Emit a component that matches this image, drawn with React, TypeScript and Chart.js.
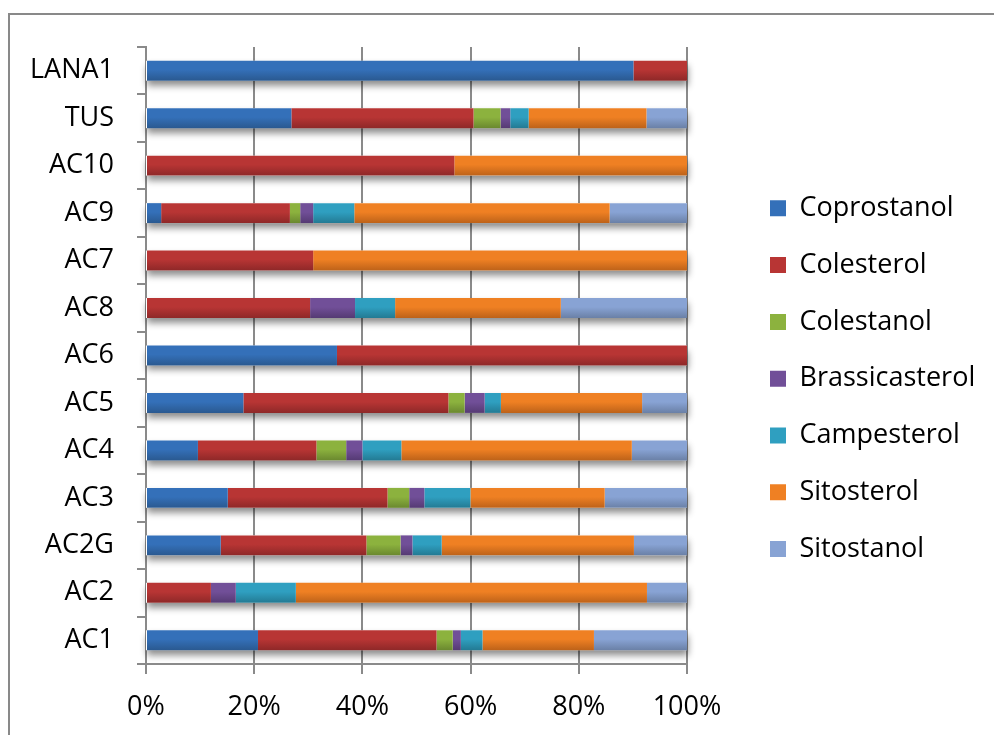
import React, { useEffect, useRef } from 'react';
import { Chart, registerables } from 'chart.js';

Chart.register(...registerables);

// Categories listed bottom-to-top as they appear in the chart
const categories = ['AC1', 'AC2', 'AC2G', 'AC3', 'AC4', 'AC5', 'AC6', 'AC8', 'AC7', 'AC9', 'AC10', 'TUS', 'LANA1'];

const seriesNames = ['Coprostanol', 'Colesterol', 'Colestanol', 'Brassicasterol', 'Campesterol', 'Sitosterol', 'Sitostanol'];

const coprostanol = [20.7, 0, 13.8, 15.1, 9.6, 18.0, 35.3, 0, 0, 2.8, 0, 26.9, 90.1];
const colesterol = [33.0, 12.0, 26.9, 29.5, 21.9, 37.9, 64.7, 30.3, 30.9, 23.8, 57.0, 33.7, 9.9];
const colestanol = [3.0, 0, 6.3, 4.0, 5.5, 3.0, 0, 0, 0, 1.9, 0, 5.0, 0];
const brassicasterol = [1.5, 4.6, 2.2, 2.8, 3.0, 3.7, 0, 8.3, 0, 2.4, 0, 1.8, 0];
const campesterol = [4.0, 11.1, 5.4, 8.5, 7.2, 3.0, 0, 7.4, 0, 7.6, 0, 3.4, 0];
const sitosterol = [20.6, 64.9, 35.5, 24.8, 42.6, 26.1, 0, 30.6, 69.1, 47.2, 43.0, 21.8, 0];
const sitostanol = [17.2, 7.4, 9.8, 15.2, 10.2, 8.3, 0, 23.3, 0, 14.3, 0, 7.5, 0];

const xTickLabels = ['0%', '20%', '40%', '60%', '80%', '100%'];

const baseColors = ['#3470b9', '#b83534', '#8cb23e', '#714f98', '#2f9fc0', '#ef8023', '#88a3d4'];
const darkColors = ['#2a5990', '#8e2828', '#6a882f', '#553a73', '#237a93', '#bd6219', '#6a80a6'];

const FONT_FAMILY = "'Open Sans', 'DejaVu Sans', sans-serif";
const FONT_SIZE = 27;
const BAR_PCT = 0.42;
const GRID = '#8a8a8a';

// layout targets (pixels)
const CANVAS_W = 994;
const CANVAS_H = 735;
const PLOT_RIGHT = 687;
const LEGEND_PAD = 29.8;
const LEGEND_BOX_X = 770;
const LEGEND_SHIFT_Y = -12.3;

const allSeries = [coprostanol, colesterol, colestanol, brassicasterol, campesterol, sitosterol, sitostanol];
const rowTotals = categories.map((_, i) => allSeries.reduce((s, arr) => s + arr[i], 0));

function makeGradient(base: string, dark: string) {
  return (c: any) => {
    const chart = c.chart;
    const ys = chart.scales && chart.scales.y;
    if (c.type !== 'data' || !chart.chartArea || !ys) return base;
    const yc = ys.getPixelForValue(c.dataIndex);
    const half = (ys.height / categories.length) * BAR_PCT / 2;
    if (!isFinite(yc) || !isFinite(half)) return base;
    const g = chart.ctx.createLinearGradient(0, yc - half, 0, yc + half);
    g.addColorStop(0, base);
    g.addColorStop(0.45, base);
    g.addColorStop(1, dark);
    return g;
  };
}

const shadowPlugin = {
  id: 'rowShadow',
  beforeDatasetsDraw(chart: any) {
    const meta = chart.getDatasetMeta(0);
    const xs = chart.scales.x;
    if (!meta || !xs) return;
    const ctx = chart.ctx;
    const x0 = xs.getPixelForValue(0);
    const x1 = xs.getPixelForValue(100);
    ctx.save();
    ctx.fillStyle = '#ffffff';
    ctx.shadowColor = 'rgba(0,0,0,0.45)';
    ctx.shadowBlur = 7;
    ctx.shadowOffsetX = 1;
    ctx.shadowOffsetY = 5;
    meta.data.forEach((el: any) => {
      const h = el.height;
      ctx.fillRect(x0, el.y - h / 2, x1 - x0, h);
    });
    ctx.restore();
  },
};

const legendPlacePlugin = {
  id: 'legendPlace',
  afterLayout(chart: any) {
    const lg = chart.legend;
    if (!lg) return;
    lg.left = LEGEND_BOX_X - LEGEND_PAD;
    lg.right = CANVAS_W;
    lg.width = lg.right - lg.left;
    lg.top += LEGEND_SHIFT_Y;
    lg.bottom += LEGEND_SHIFT_Y;
  },
};

export default function App() {
  const ref = useRef<HTMLCanvasElement>(null);

  useEffect(() => {
    if (!ref.current) return;
    const font = { family: FONT_FAMILY, size: FONT_SIZE };
    const datasets = seriesNames.map((name, k) => ({
      label: name,
      data: allSeries[k].map((v, i) => (v / rowTotals[i]) * 100),
      backgroundColor: makeGradient(baseColors[k], darkColors[k]),
      borderWidth: 0,
      barPercentage: BAR_PCT,
      categoryPercentage: 1.0,
      xAxisID: 'x',
      yAxisID: 'y',
    }));

    const chart = new Chart(ref.current, {
      type: 'bar',
      data: { labels: categories, datasets },
      options: {
        responsive: false,
        animation: false,
        indexAxis: 'y',
        layout: { padding: { left: 0, top: 47, right: 0, bottom: 0 } },
        plugins: {
          legend: {
            position: 'right',
            labels: {
              font,
              color: '#000',
              boxWidth: 16,
              boxHeight: 16,
              padding: LEGEND_PAD,
            },
          },
          tooltip: { enabled: false },
        },
        scales: {
          x: {
            type: 'linear',
            position: 'bottom',
            stacked: true,
            min: 0,
            max: 100,
            ticks: {
              stepSize: 20,
              font,
              color: '#000',
              padding: 17,
              maxRotation: 0,
              callback: (_v: any, idx: number) => xTickLabels[idx],
            },
            grid: { color: GRID, lineWidth: 2, tickLength: 10, drawTicks: true },
            border: { color: GRID, width: 2 },
            afterFit: (s: any) => { s.height = CANVAS_H - 664; },
          },
          y: {
            type: 'category',
            position: 'left',
            stacked: true,
            reverse: true,
            ticks: { font, color: '#000', padding: 23, autoSkip: false },
            grid: { offset: true, drawOnChartArea: false, color: GRID, lineWidth: 2, tickLength: 9 },
            border: { color: GRID, width: 2 },
            afterFit: (s: any) => { s.width = 146; },
          },
          y2: {
            type: 'category',
            position: 'right',
            grid: { display: false },
            border: { display: false },
            ticks: { display: false },
            afterFit: (s: any) => {
              const lw = (s.chart.legend && s.chart.legend.width) || 0;
              s.width = Math.max(0, CANVAS_W - PLOT_RIGHT - lw);
            },
          },
        },
      } as any,
      plugins: [shadowPlugin, legendPlacePlugin],
    });
    return () => chart.destroy();
  }, []);

  return (
    <div style={{ position: 'fixed', left: 0, top: 0, width: CANVAS_W, height: CANVAS_H, overflow: 'hidden', background: '#fff' }}>
      <div
        style={{
          position: 'absolute',
          left: 8,
          top: 13,
          width: 1100,
          height: 800,
          borderTop: '2px solid #898989',
          borderLeft: '2px solid #898989',
        }}
      />
      <canvas ref={ref} width={CANVAS_W} height={CANVAS_H} style={{ position: 'absolute', left: 0, top: 0 }} />
    </div>
  );
}
